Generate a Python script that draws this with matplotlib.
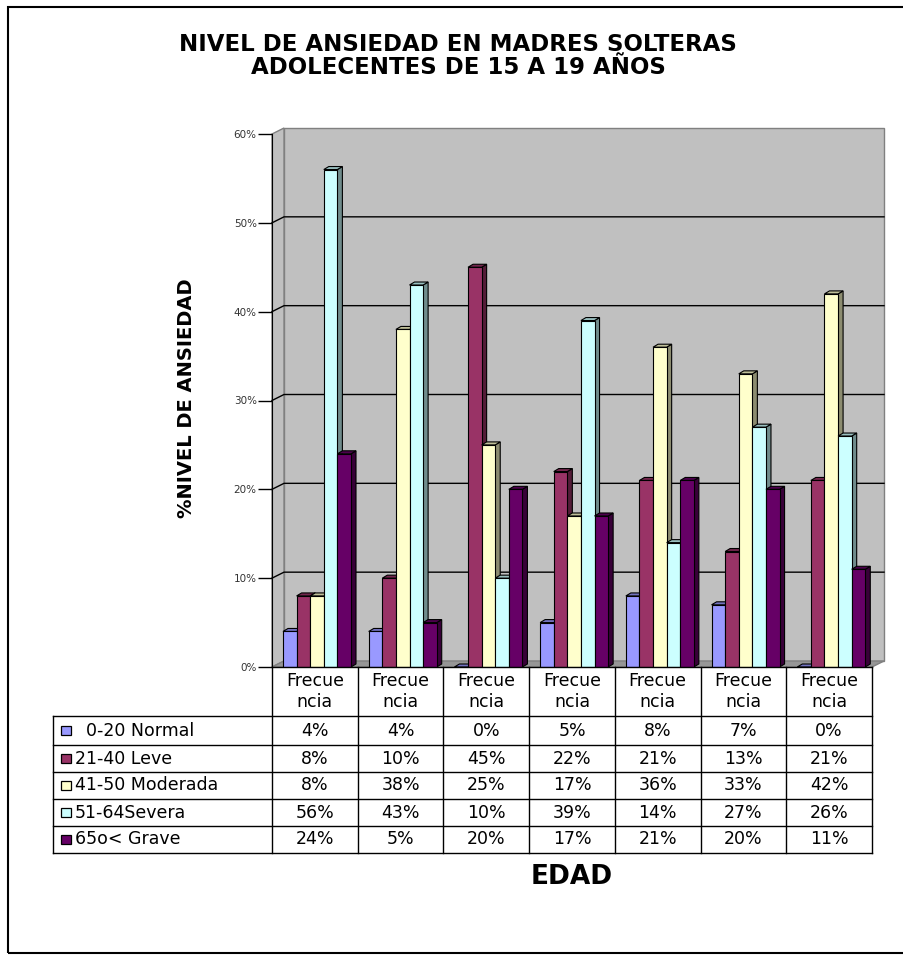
import numpy as np
import matplotlib.pyplot as plt
from matplotlib.patches import Polygon, Rectangle
from matplotlib.colors import to_rgb

# datos de la encuesta
columnas = ['Frecue\nncia'] * 7
niveles = ['  0-20 Normal', '21-40 Leve', '41-50 Moderada', '51-64Severa', '65o< Grave']
normal = [4, 4, 0, 5, 8, 7, 0]
leve = [8, 10, 45, 22, 21, 13, 21]
moderada = [8, 38, 25, 17, 36, 33, 42]
severa = [56, 43, 10, 39, 14, 27, 26]
grave = [24, 5, 20, 17, 21, 20, 11]
series = [normal, leve, moderada, severa, grave]
colores = ['#9999FF', '#993366', '#FFFFCC', '#CCFFFF', '#660066']
yticks = [0, 10, 20, 30, 40, 50, 60]

plt.rcParams['font.family'] = 'DejaVu Sans'

W, H = 904, 959
fig = plt.figure(figsize=(W / 100, H / 100), dpi=100)


def caja(x0, y0, x1, y1):
    return [x0 / W, 1 - y1 / H, (x1 - x0) / W, (y1 - y0) / H]


# marco exterior
fig.patches.append(Rectangle((8 / W, 1 - 953 / H), 1, 946 / H, transform=fig.transFigure,
                             fill=False, edgecolor='black', lw=1.5))

ax = fig.add_axes(caja(272, 134, 872, 667))
n = len(columnas)
ymax = yticks[-1]
ax.set_xlim(0, n)
ax.set_ylim(0, ymax)
ax.set_facecolor('none')

bb = ax.get_window_extent()
ux = bb.width / n
uy = bb.height / ymax
pdx, pdy = 12 / ux, 6 / uy   # profundidad de las paredes
bdx, bdy = 5 / ux, 3 / uy    # profundidad de las columnas

# paredes y piso
ax.add_patch(Polygon([(pdx, pdy), (n + pdx, pdy), (n + pdx, ymax + pdy), (pdx, ymax + pdy)],
                     fc='#C0C0C0', ec='#808080', lw=1, clip_on=False, zorder=0))
ax.add_patch(Polygon([(0, 0), (pdx, pdy), (pdx, ymax + pdy), (0, ymax)],
                     fc='#C0C0C0', ec='#808080', lw=1, clip_on=False, zorder=0))
ax.add_patch(Polygon([(0, 0), (n, 0), (n + pdx, pdy), (pdx, pdy)],
                     fc='#969696', ec='#808080', lw=1, clip_on=False, zorder=0.5))
for t in yticks[1:-1]:
    ax.plot([0, pdx, n + pdx], [t, t + pdy, t + pdy], color='black', lw=1, clip_on=False, zorder=1)

# columnas 3D
off = 11 / ux
bw = 13.6 / ux
x = np.arange(n)
for k, (vals, c) in enumerate(zip(series, colores)):
    x0 = x + off + k * bw
    z = 3 + k
    ax.bar(x0, vals, width=bw, align='edge', color=c, edgecolor='black', lw=0.8, zorder=z)
    rgb = np.array(to_rgb(c))
    for xi, h in zip(x0, vals):
        ax.add_patch(Polygon([(xi + bw, 0), (xi + bw + bdx, bdy), (xi + bw + bdx, h + bdy), (xi + bw, h)],
                             fc=rgb * 0.55, ec='black', lw=0.8, zorder=z - 0.5, clip_on=False))
        ax.add_patch(Polygon([(xi, h), (xi + bw, h), (xi + bw + bdx, h + bdy), (xi + bdx, h + bdy)],
                             fc=rgb * 0.75, ec='black', lw=0.8, zorder=z - 0.5, clip_on=False))

for s in ['top', 'right', 'bottom']:
    ax.spines[s].set_visible(False)
ax.spines['left'].set_zorder(10)
ax.set_xticks([])
ax.set_yticks(yticks)
ax.set_yticklabels([f'{t}%' for t in yticks], fontsize=7.5, color='#333333')
ax.tick_params(axis='y', length=10, width=1, direction='out', pad=1)

# tabla de datos con leyenda
tax = fig.add_axes(caja(53, 667, 872, 853))
leg_w = 219 / ux
tax.set_xlim(-leg_w, n)
tax.set_ylim(186, 0)
tax.axis('off')
filas = [0, 49, 78, 105, 132, 159, 186]

tax.plot([0, n], [0, 0], color='black', lw=1, clip_on=False)
for j in range(n + 1):
    tax.plot([j, j], [0, filas[-1]], color='black', lw=1, clip_on=False)
tax.plot([-leg_w, -leg_w], [filas[1], filas[-1]], color='black', lw=1, clip_on=False)
for yy in filas[1:]:
    tax.plot([-leg_w, n], [yy, yy], color='black', lw=1, clip_on=False)

for j, col in enumerate(columnas):
    tax.text(j + 0.5, filas[1] / 2, col, ha='center', va='center', fontsize=12.5, linespacing=1.25)

for k, (vals, c, nombre) in enumerate(zip(series, colores, niveles)):
    yc = (filas[k + 1] + filas[k + 2]) / 2
    for j, v in enumerate(vals):
        tax.text(j + 0.5, yc, f'{v}%', ha='center', va='center', fontsize=12.5)
    tax.add_patch(Rectangle((-leg_w + 8 / ux, yc - 4.5), 10 / ux, 9, fc=c, ec='black', lw=0.9, clip_on=False))
    tax.text(-leg_w + 22 / ux, yc, nombre, ha='left', va='center', fontsize=12.5)

# textos
fig.text(458 / W, 1 - 56 / H, 'NIVEL DE ANSIEDAD EN MADRES SOLTERAS\nADOLECENTES DE 15 A 19 AÑOS',
         ha='center', va='center', fontsize=16.5, fontweight='bold', linespacing=1.0)
fig.text(187 / W, 1 - 398 / H, '%NIVEL DE ANSIEDAD', rotation=90, ha='center', va='center',
         fontsize=14, fontweight='bold')
fig.text(572 / W, 1 - 877 / H, 'EDAD', ha='center', va='center', fontsize=19, fontweight='bold')

fig.savefig('out.png', dpi=100)
